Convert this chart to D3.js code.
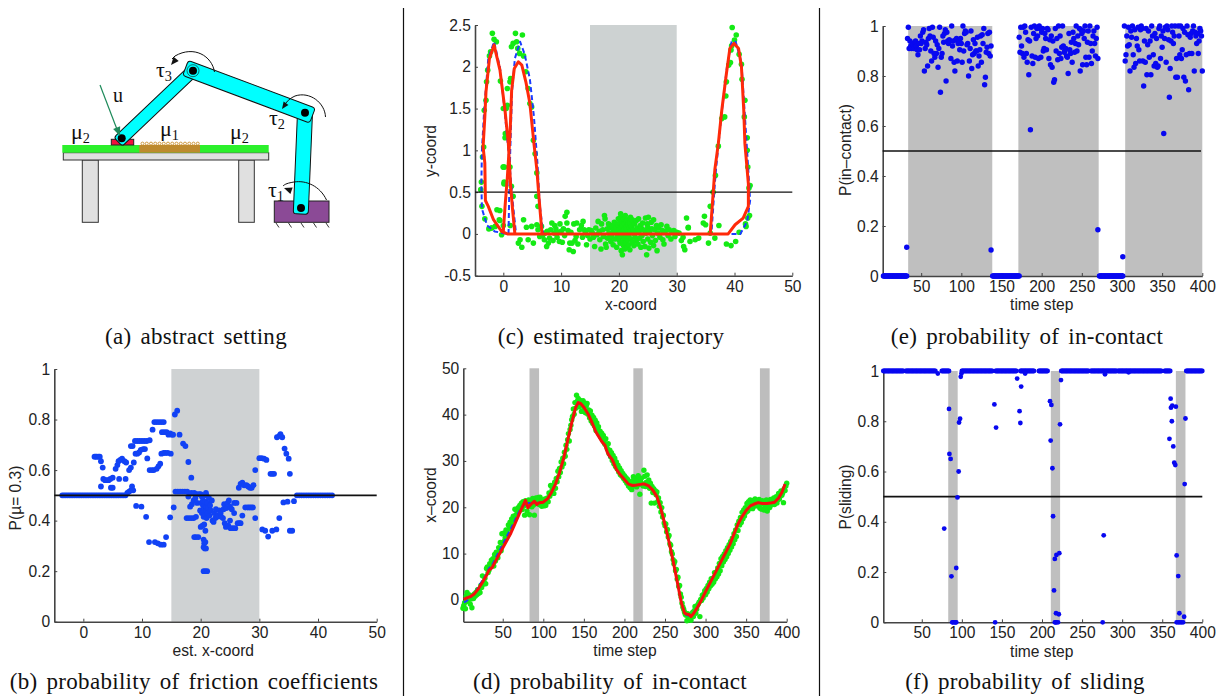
<!DOCTYPE html>
<html>
<head>
<meta charset="utf-8">
<script src="https://d3js.org/d3.v7.min.js"></script>
<style>
html, body { margin: 0; padding: 0; background: #fff; }
svg { display: block; }
text { font-family: "Liberation Sans", sans-serif; fill: #222; }
.caption { font-family: "Liberation Serif", serif; font-size: 23px; fill: #111; letter-spacing: 0.3px; word-spacing: 3px; }
.diagram text { font-family: "Liberation Serif", serif; fill: #111; }
.axis-title { font-size: 15.6px; }
.tick text { font-size: 15.6px; fill: #222; font-family: "Liberation Sans", sans-serif; }
</style>
</head>
<body>
<svg id="chart" width="1220" height="696"></svg>
<script>
// tick labels
var xCoordTicks = [0, 10, 20, 30, 40, 50];
var timeTicks = [50, 100, 150, 200, 250, 300, 350, 400];
var probTicks = [0, 0.2, 0.4, 0.6, 0.8, 1];
var yCoordTicks = [-0.5, 0, 0.5, 1, 1.5, 2, 2.5];
var xTraceTicks = [0, 10, 20, 30, 40, 50];

// shaded regions
var frictionBand = [15, 30];
var contactBands = [[33.8, 138.5], [171, 271], [304, 400]];
var slidingBands = [[83, 94.8], [211, 222.6], [367, 379]];

// (c) noisy observations, x then y
var trajGreen = [
[-3.9,.53],[-3.8,.62],[-3.6,.92],[-3.4,1.04],[-3.3,1.48],[-3,1.6],[-2.9,1.82],[-2.7,1.96],[-2.4,2.13],[-1.9,2.4],[-1.6,2.33],[-1.2,2.3],[-2.2,2.18],[-.5,1.83],
[-3.7,.33],[-3.2,.18],[-2.5,.06],[-2.1,.07],[-1.1,.29],[-.6,.28],[-.7,.17],[-.3,-.01],[0,.8],[.1,.6],[.15,.62],[.2,.8],[.3,1.15],[.35,1.2],[.5,1.5],[0,1.5],[.7,1.54],[.7,1.74],[1.15,1.82],[1.25,1.86],
[1.4,2.24],[1.7,2.28],[2.1,2.4],[2.3,2.3],[2.5,2.22],[2.8,2.16],[3.3,2.38],[3.5,2.13],[3.9,1.94],[4.3,1.74],[4.9,1.52],[4.6,1.56],[5.2,1.12],[5.5,.96],[5.8,.73],[5.8,.45],[6,.33],
[1.15,.8],[1.4,.57],[1.7,.45],[0,.8],[.3,.6],[1.2,.1],[-.6,.16],[-1.4,.09],[-2,.07],[0,.1],
[2.6,-.11],[3.2,-.16],[2.9,-.07],[4.3,-.07],[5.2,-.11],[3.5,.17],[4,.08],[4.9,.09],[5.8,.11],[6,.05],[6.3,-.03],[7.1,-.07],[7.5,-.15],[7.8,-.11],[8.4,.13],[8.9,.1],[9.8,.12],[10.7,.21],[11,.26],[11,.13],[11.5,-.11],[11.4,-.19],[12.1,-.21],[12.7,.13],[13.8,.15],[14.4,-.13],
[6.6,.09],[6.8,-.02],[7.2,.01],[7.6,.03],[8,-.05],[8.2,.05],[8.6,-.08],[8.8,.01],[9.1,.06],[9.3,-.04],[9.5,.02],[9.7,-.09],[10,.03],[10.2,-.1],[10.4,.06],[10.6,-.02],[11.2,.04],[11.7,.02],[11.9,-.11],[12.2,.12],[12.4,-.08],[12.6,-.03],[12.9,-.12],[13.2,.05],[13.5,.1],[13.7,-.04],[14,.05],[14.2,.02],[14.6,-.02],[14.8,.05],
[15,-.06],[15.2,.04],[15.4,.01],[15.6,-.04],[15.8,-.15],[16,.07],[16.2,-.01],[16.4,.15],[16.6,.03],[16.7,-.07],[16.9,-.18],[17,.12],[17.2,.05],[17.3,-.03],[17.5,.22],[17.6,.18],[17.7,-.12],[17.8,-.16],[18,.06],[18,-.05],[18.2,.12],[18.3,.01],[18.5,.08],[18.6,-.09],[18.7,-.03],[18.9,.1],[19,-.13],[19,.04],[19.2,.14],[19.3,-.06],[19.4,.03],[19.5,.08],[19.6,-.16],[19.7,-.02],[19.8,.11],[19.9,.18],
[20,-.07],[20,.05],[20.1,.13],[20.2,-.11],[20.2,.01],[20.3,.2],[20.3,.24],[20.4,-.2],[20.4,.08],[20.5,-.03],[20.5,.15],[20.6,-.25],[20.6,.1],[20.7,.03],[20.7,-.09],[20.8,.18],[20.8,-.14],[20.9,.05],[21,.12],[21,-.05],[21,-.18],[21.1,.22],[21.1,.01],[21.2,.08],[21.2,-.11],[21.3,.15],[21.3,-.02],[21.4,-.16],[21.4,.05],[21.5,.17],[21.5,-.07],[21.6,.02],[21.6,.11],[21.7,-.13],[21.7,-.03],[21.8,.07],[21.9,.14],[21.9,-.19],[22,.2],[22,.03],[22.1,-.06],[22.2,.09],[22.3,-.1],[22.3,.17],[22.4,.01],[22.5,.05],[22.6,-.14],[22.7,.12],[22.8,-.04],[22.9,.02],[23,.16],[23,-.08],[23.2,.07],[23.3,-.12],[23.4,.18],[23.5,.03],[23.6,-.05],[23.7,.1],[23.8,-.16],[24,.06],[24,-.02],[24.1,.13],[24.2,-.09],[24.4,.04],[24.5,-.15],[24.6,.19],[24.7,.01],[24.8,-.25],[24.9,.12],[25,-.06],[25,.08],[25.1,.2],[25.2,-.17],[25.3,.03],[25.5,-.1],[25.6,.14],[25.7,.06],[25.8,-.02],[26,.17],[26,-.14],[26.2,.05],[26.3,-.08],[26.5,.1],[26.6,-.2],[26.7,.01],[26.9,.07],[27.1,-.04],[27.3,.11],[27.5,.04],[27.6,-.07],[27.8,-.12],[28,.03],[28.3,.09],[28.5,-.02],[28.7,.05],[29,-.06],[29.2,.02],[29.5,.04],[29.7,-.03],[30,.02],
[30.4,.01],[30.8,-.08],[31.1,-.04],[31.2,-.15],[31.4,-.19],[31.7,.19],[32,.07],[32.3,-.09],[32,.08],[33.2,-.07],[33.8,-.05],[34.8,.21],[34.6,.13],[35,.11],[35.5,-.11],[35.8,.01],[36.6,-.05],[37.3,.1],[38.6,-.12],[39.4,-.14],[40.2,-.09],[40.8,.02],[42,.09],
[35.8,.33],[36.3,.5],[36.7,.7],[37.2,1.05],[37.8,1.38],[38.3,1.4],[38.5,1.65],[38.6,1.82],[39,2.02],[39.3,2.05],[39.4,2.2],[39.5,2.25],[39.6,2.47],[40,2.32],[40.3,2.38],[40.8,2.15],[41.2,2.03],[41.3,1.85],[41.8,1.6],[41.7,1.4],[42.2,1.15],[42.2,1],[42.3,.8],[42.5,.55],[42.7,.58],[42.6,.22],[42.3,.19],[41.9,.12]
];
// (c) estimated path
var trajRedX = [0,.3,.7,1.15,1.44,1.9,2.6,3.2,3.9,4.6,5.3,5.8,6.2,6.7,35.8,36.6,37.2,37.8,38.6,39.2,39.9,40.7,41.2,41.6,41.8,42.4,42.4,41.5,40.1,38.9,2,1.6,1.27,.87,.29,-.58,-1.6,-2.4,-3,-3.2,-3.5,-3.2,-3.1,-2.6,-1.7,-.3,.7,30];
var trajRedY = [.03,.33,.68,1.17,1.72,1.98,2.06,2.02,1.82,1.56,1.08,.77,.41,0,0,.77,1.08,1.48,1.92,2.22,2.28,2.22,2,1.48,1.08,.6,.33,.19,.11,0,0,.29,.57,1.08,1.48,1.96,2.26,2.1,1.7,1.4,1.04,.85,.4,.33,.17,.03,0,0];
// (c) true path
var trajBlueX = [.9,1,1.2,1.5,2,2.9,3.7,4.6,5.3,5.9,6.3,6.9,36,36.7,37.7,38.7,39.5,40.2,41.2,41.9,42.4,42.7,42.2,41,39,2.2,1.6,1,.2,-.6,-1.6,-2.6,-3.3,-3.7,-3.8,-3.7,-2.8,-1.5,.6,30];
var trajBlueY = [0,.4,1,1.7,2.1,2.3,2.15,1.85,1.4,.85,.35,0,0,.7,1.4,2,2.3,2.3,2.05,1.3,.75,.4,.15,0,0,0,.4,.9,1.5,2,2.3,2.1,1.5,1,.6,.3,.1,.03,0,0];

// (d) noisy x-coord, one per time step from 1
var obsX = [
-1.8,-1.2,-.6,-1.9,.8,1.6,-.3,.4,1.1,-.9,
.2,-1.7,.9,.3,1.3,.8,1.6,1.1,2.2,1.4,
2.3,1.6,3.1,2.7,5.2,3.4,3.8,4.7,3.5,6.8,
7.1,5.9,6.4,7.8,7.2,8.6,7.9,8.9,7.3,9.8,
8.4,10.3,9.7,9.1,11.3,10.8,12.4,10.6,14.3,12.1,
14.4,12.7,13.4,15.1,14.6,13.8,16.2,15.3,16.8,15.6,
17.5,16.4,18.1,17.2,19.6,18.3,19.3,18.6,19.9,19.1,
20.4,19.7,20.9,19.5,21.2,20.3,18.3,21.4,20.6,19.2,
20.7,21.6,18.4,20.2,21.3,20.1,21.9,20.5,18.3,21.1,
22,20.8,21.7,22.1,20.6,22.2,21,20.2,21.6,20.9,
20.3,21.8,20.4,21.5,22,21.2,23.1,22.4,24.7,23.2,
23.9,24.6,23,25.4,24.1,26.2,25.5,27.8,26.6,28.4,
27.5,29.8,28.7,30.6,29.4,31.9,31,33.4,32.5,34.6,
35.9,34.3,36.8,37.7,38.9,39.6,41.2,40.1,42.6,41.4,
44.2,42.9,43.5,41.7,43.1,42.2,40.7,42.8,43,41.5,
42.5,40.4,41.9,42.4,40.1,41,39.3,40.8,38.6,39.9,
38.1,39.4,37.6,38.8,36.6,38.2,36.9,37.4,35.9,36.4,
35.2,36,34.5,35.5,34,33.6,34.8,33.1,32.6,33.7,
31.6,32.3,30.9,31.8,30.1,31.2,29.4,30.6,28.8,29.8,
28.3,29.1,27.6,28.5,27,27.9,26.7,27.3,26.2,26.8,
25.7,26.4,25.2,26,24.6,25.5,24.2,25,23.8,25.7,
26.6,24.7,26.2,25.3,24.4,25.8,26.8,24.9,22.8,25.5,
26.3,25.1,24.6,28,26.7,24.5,25.4,27,24.8,25.9,
24.1,25.2,20.9,24.5,23.2,24,20.9,23.6,22.7,23.3,
21.2,22,20.2,21,19,19.9,17.9,18.3,16.6,16,
16.4,14.7,15.2,13.6,13.9,12.1,11.8,10.4,9.9,8.7,
7.8,8.3,6.3,6.6,4.5,4.9,2.9,3.1,1.3,.6,
-.7,-1.5,-2,-2.6,-3.1,-3.3,-4.5,-3,-4.1,-3.4,
-3.9,-4.4,-3.2,-2.7,-3.6,-2.3,-1.4,-2.9,-2,-1.2,
-.9,-.5,-3.6,.1,-.1,1,.4,1.3,2,1.1,
2.5,1.7,3.1,2.4,3.8,3,4.6,3.4,4.7,3.8,
5.9,4.5,6,5,6.9,5.6,7.9,6.3,8.9,7.4,
9.4,8.2,9.9,8.7,10.6,9.3,11.3,10,11.9,10.7,
12.6,11.4,13.3,12.1,14.3,13,15.1,13.7,16.2,15,
17,16.2,17.8,16.7,18.9,17.5,19.4,18.1,19.9,18.9,
20.8,19.2,21.2,19.7,21.6,20.2,20.9,19.7,21.5,20.2,
21.8,20.6,21.3,20.3,20.4,21.7,19.8,21,19.6,21.4,
20.7,19.4,21.2,20,21.6,19.2,20.8,21.3,19.9,21.7,
20.5,21.5,20.9,22,20.6,21.2,22.3,20.9,21.6,23,
21.8,22.4,23.5,22.6,23.1,21,24,23.6,24.6,25.2
];
var estT = [2,5,10,15,20,25,30,33,37,40,50,60,70,74,78,81,85,89,92,95,100,105,110,115,120,125,130,135,140,143,146,150,155,160,165,172,176,179,181,185,190,195,200,205,210,215,222,225,230,235,240,245,250,255,260,265,270,274,276,280,282,285,290,295,300,310,320,330,340,345,350,355,360,365,370,375,380,385,390,394,398];
var estX = [.1,.4,.7,1.3,2.4,3.8,5.3,6.4,7,8,11.2,14.4,18.4,20,21.5,19.9,20.7,21.3,20.6,21,21.1,21.8,23.2,25,27.5,30.5,34.4,38.2,41.6,42.6,42.4,41.6,40.2,38.3,36.2,34.2,33.4,31.8,31.2,30.3,28.2,27,26,25,24.7,24.8,25,25,24.6,23.7,22.3,19.6,16.2,12.5,8.4,4,-.5,-2.8,-3,-3.2,-3.6,-3,-1.6,0,1.8,5.2,8.6,12,16.4,18,19.3,20.3,20.7,21,20.8,20.8,20.9,21.1,22,23.2,25];
var trueX = [-.5,-.3,.5,1.4,2.8,4.2,5.6,6.8,7.6,8.6,12,15.4,19,20.2,20.7,20.9,20.9,20.9,20.9,21,21.1,21.8,23.2,25,27.5,30.5,34.4,38.2,41.6,42.6,42.4,41.6,40.2,38.3,36.2,34.2,33.4,31.8,31,30.3,28.2,27,26,25,24.7,24.8,25,25,24.6,23.7,22.3,19.6,16.2,12.5,8.4,4,-.5,-2.8,-3.2,-3.4,-3.4,-3,-1.6,0,1.8,5.2,8.6,12,16.4,18,19.3,20.3,20.7,21,20.8,20.8,20.9,21.1,22,23.2,25];

// (e) in-contact probability, off-contact zero runs and three contact stretches
var contactZeroRuns = [[3,32],[139,172],[272,301]];
var contactStray = [[32,.115],[137,.104],[270,.185],[301,.077]];
var contactAStart = 33;
var contactA = [
.95,.995,.91,.94,.92,.91,.93,.925,.91,.935,
.94,.92,.905,.885,.93,.905,.96,.93,.94,.975,
.985,.82,.91,.935,.925,.84,.95,.99,.96,.9,
.86,.995,.955,.89,.875,.94,.89,.925,.835,.91,
.995,.735,.875,.89,.96,.935,.97,.985,.78,.975,
.94,.93,.945,.94,.87,1,.92,.94,.855,.82,
.945,.95,.86,.93,.94,.905,.95,.93,.855,1,
.9,.97,.98,.975,.925,.93,.8,.86,.91,.98,
.83,.885,.945,.89,.93,.9,.9,.955,.84,.88,
.905,.96,.855,.965,.93,.99,.765,.795,.895,.915,
.97,.89,.975,.88,.92
];
var contactBStart = 172;
var contactB = [
.955,.895,.995,.92,.89,.995,.875,1,.975,.89,
.855,.945,.805,.94,.585,.995,.88,.85,.97,1,
.875,.95,.99,.96,.87,1,.99,.875,.975,.99,
.9,.91,.97,.95,.905,.99,.985,.87,.945,.845,
.96,.835,.94,.775,.785,.99,.9,.95,.865,1,
.89,.96,.87,.915,1,.92,.895,.9,.91,.88,
.875,.81,.97,.905,.89,.935,.855,.975,.95,.895,
.93,1,.9,.96,.925,.99,.82,.985,.97,.845,
.98,.95,1,.875,.845,.935,.98,.875,1,.93,
.85,.9,.96,.98,.93,.88,.95,.995,.87
];
var contactCStart = 303;
var contactC = [
1,.86,.885,.96,.92,.995,.925,.82,.98,.955,
1,.885,.835,.985,.85,.95,.92,.995,.905,.86,
.985,1,.99,.86,.76,.94,.855,.99,.805,.925,
.98,.875,.94,.805,1,.96,.885,.84,.97,.85,
.95,.835,.84,.99,1,.87,.96,.915,.98,.57,
.95,.995,.855,1,.985,.945,.715,.83,.94,1,
.975,.93,.96,1,.795,.87,.795,1,.96,.885,
1,.87,.905,.99,.795,.975,.78,.885,1,.965,
.745,.89,.955,.97,.89,.98,1,.82,.975,.96,
.93,.97,.89,.94,.99,.98,.96,.82
];

// (f) sliding probability
var slidingOneRuns = [[2,27],[30,67],[75,84],[100,138],[142,168],[173,190],[196,207],[224,258],[261,293],[295,349],[353,360],[380,400]];
var slidingT = [70,78,84,84.5,86,87,88,89,91,92,93,93,94.5,96,96.5,97.8,98.6,99.5,141.5,140.6,142.7,169,172,173,174,179,210,211.7,210.8,213,213.8,215,216,216,217,217.5,218,218,220,221,221.6,222.5,223.7,275.7,277,278.6,360.5,359,360.9,362,362.5,363.8,365,366.3,367,368,368,370,370,371.4,372,374,376,377.3,378,379,308];
var slidingP = [.99,.373,.849,.67,.65,.183,0,0,0,0,0,.216,.497,.6,.795,.81,.977,.99,0,.867,.775,.97,.84,.793,.938,.99,.88,.865,.723,.613,.422,.127,.252,0,0,.036,.268,0,0,.032,.275,.788,.964,0,.346,.987,.89,.73,.854,.8,.862,.7,.635,.626,.858,.266,0,.184,0,.036,0,0,0,.022,.55,.811,.995];

// (b) friction belief, flat stretch at one half plus the rest
var muFlatX = [-3.6,-3.3,-3,-2.7,-2.4,-2.1,-1.8,-1.5,-1.2,-.9,-.6,-.3,0,.3,.6,.9,1.2,1.5,1.8,2.1,2.4,2.7,3,3.3,3.6,3.9,4.2,4.5,4.8,5.1,5.4,5.7,6,6.3,6.6,6.9,7.2,36.4,36.8,37.2,37.6,38,38.4,38.8,39.2,39.6,40,40.4,40.8,41.2,41.6,42,42.4];
var muPoints = [
[1.9,.653],[2.1,.653],[2.3,.653],[2.6,.653],[2.8,.653],[3,.635],[3.3,.61],[3,.535],[3.4,.565],[3.7,.56],[4,.56],[4.3,.56],[4.6,.565],[5,.57],[4.7,.53],[5,.53],
[5.5,.605],[5.8,.62],[6,.635],[6.3,.64],[6.6,.645],[7,.635],[7.3,.63],[6.1,.565],[7.2,.565],[7.8,.6],[8.1,.61],[8.6,.63],[7.5,.51],[7.8,.515],[8.1,.52],[8.3,.535],[8.5,.52],
[8.1,.695],[8.4,.695],[8.8,.715],[9.2,.715],[9.6,.715],[10,.715],[10.4,.715],[10.8,.715],[11.3,.718],[8.9,.665],[9.2,.665],[9.5,.67],[9.8,.68],[10.2,.683],[10.5,.683],[9,.458],[9.9,.455],[10.7,.415],[10.9,.646],
[11.2,.315],[12.2,.315],[12.7,.31],[13.2,.305],[13.7,.305],[14.1,.335],[11.3,.6],[11.7,.6],[12,.6],[12.5,.605],[12.8,.615],[13.1,.625],[11.8,.76],[12.1,.79],[12.5,.79],[12.9,.79],[13.3,.79],[13.7,.79],
[13.3,.665],[13.7,.668],[14,.668],[14.4,.668],[14.9,.665],[13.4,.75],[13.8,.75],[14.2,.75],[14.5,.74],[14.8,.745],[15.1,.74],[15.3,.74],[14.8,.413],[15.4,.452],[15.6,.82],[16,.835],
[15.7,.515],[16.1,.515],[16.5,.515],[16.9,.515],[17.3,.515],[17.7,.515],[17.9,.495],[18.4,.51],[18.9,.51],[19.3,.505],[19.7,.505],[20,.505],[20.9,.51],[21,.5],
[16.4,.74],[17,.705],[17.4,.695],[17.9,.632],[18.4,.57],[17.6,.41],[18,.41],[18.4,.41],[18.8,.41],[19.2,.415],[18.2,.455],[18.5,.465],[18.8,.48],[19.1,.49],[19.4,.47],[18.9,.335],[19.2,.335],[19.6,.335],[19.9,.44],[20,.375],[20.3,.38],[20.6,.385],[20.2,.43],[20.5,.415],
[20.1,.47],[20.2,.495],[20.4,.46],[20.4,.48],[20.6,.44],[20.6,.5],[20.7,.46],[20.8,.42],[20.8,.475],[20.9,.44],[21,.455],[21,.41],[21.2,.47],[21.2,.43],[21.3,.45],[21.4,.49],[21.5,.42],[21.6,.46],[21.7,.44],[21.9,.48],[22,.4],[22.2,.395],[22.3,.43],[22.5,.41],[22.6,.445],[22.8,.415],[23,.42],[23.2,.44],[23.4,.43],[23.5,.415],[23.8,.41],[23.9,.445],[24,.465],[24.1,.39],[24.3,.375],[24.4,.45],[24.6,.47],[24.7,.38],[24.8,.48],[25,.4],[25,.455],[25.1,.37],[25.3,.445],[25.5,.37],[25.7,.47],[25.7,.43],[25.9,.37],[26.1,.47],[26.3,.39],[26.6,.39],[26.8,.39],
[20.5,.325],[20.6,.31],[20.5,.295],[20.7,.29],[20.8,.315],[20.9,.29],[20.8,.36],[20.5,.2],[20.8,.2],[21.1,.2],
[26.5,.53],[26.8,.545],[27.1,.55],[27.4,.54],[27.8,.54],[28.1,.535],[28.4,.53],[28.7,.53],[29,.54],[27.1,.42],[27.6,.452],[28,.452],[28.3,.452],[28.6,.452],[28.9,.452],[29.3,.6],[29.3,.41],
[30,.647],[30.4,.647],[30.8,.645],[31.2,.64],[30.5,.365],[31,.36],[31.5,.337],[32.2,.36],[32.9,.365],[33.4,.41],[31.9,.585],[32.2,.585],[32.5,.585],[33,.73],[33.4,.735],[33.6,.742],[33.9,.73],[34.3,.685],[34.6,.665],[35,.645],[35.2,.585],[34.1,.472],[34.8,.475],[35.9,.477],[35.2,.36],[35.6,.36]
];

var svg = d3.select("#chart");

function makeScale(domain, range) {
    return d3.scaleLinear().domain(domain).range(range);
}

function drawAxes(g, x, y, xTicks, yTicks) {
    var bottom = y.range()[0];
    var left = x.range()[0];
    var xAxis = d3.axisBottom(x).tickValues(xTicks).tickSizeInner(-3).tickSizeOuter(0).tickPadding(5).tickFormat(String);
    var yAxis = d3.axisLeft(y).tickValues(yTicks).tickSizeInner(-3).tickSizeOuter(0).tickPadding(4).tickFormat(String);
    g.append("g").attr("transform", "translate(0," + bottom + ")").call(xAxis);
    g.append("g").attr("transform", "translate(" + left + ",0)").call(yAxis);
    g.selectAll(".domain").attr("stroke", "#444").attr("stroke-width", 1.6);
    g.selectAll(".tick line").attr("stroke", "#444");
}

function drawBands(g, x, y, bands, color) {
    g.selectAll("rect.band").data(bands).enter().append("rect")
        .attr("class", "band")
        .attr("x", function (d) { return x(d[0]); })
        .attr("width", function (d) { return x(d[1]) - x(d[0]); })
        .attr("y", y.range()[1])
        .attr("height", y.range()[0] - y.range()[1])
        .attr("fill", color);
}

function drawDots(g, data, x, y, r, color) {
    g.append("g").selectAll("circle").data(data).enter().append("circle")
        .attr("cx", function (d) { return x(d[0]); })
        .attr("cy", function (d) { return y(d[1]); })
        .attr("r", r)
        .attr("fill", color);
}

function drawPath(g, xs, ys, x, y, color, width, dash) {
    var line = d3.line()
        .x(function (d) { return x(d); })
        .y(function (d, i) { return y(ys[i]); });
    g.append("path")
        .attr("d", line(xs))
        .attr("fill", "none")
        .attr("stroke", color)
        .attr("stroke-width", width)
        .attr("stroke-linejoin", "round")
        .attr("stroke-dasharray", dash || null);
}

function drawHalf(g, x, y, x0, x1, width) {
    g.append("line")
        .attr("x1", x0).attr("x2", x1)
        .attr("y1", y(0.5)).attr("y2", y(0.5))
        .attr("stroke", "#111").attr("stroke-width", width);
}

function axisTitle(txt, cx, cy, rotate) {
    svg.append("text").attr("class", "axis-title")
        .attr("text-anchor", "middle")
        .attr("transform", "translate(" + cx + "," + cy + ")" + (rotate ? " rotate(-90)" : ""))
        .text(txt);
}

function caption(txt, cx, cy) {
    svg.append("text").attr("class", "caption").attr("text-anchor", "middle").attr("x", cx).attr("y", cy).text(txt);
}

function expandRuns(runs, value) {
    var out = [];
    runs.forEach(function (run) {
        d3.range(run[0], run[1] + 0.5, 1).forEach(function (t) { out.push([t, value]); });
    });
    return out;
}

function withSteps(values, start) {
    return values.map(function (v, i) { return [start + i, v]; });
}

// dividers between the columns
[403.5, 819.5].forEach(function (px) {
    svg.append("line").attr("x1", px).attr("x2", px).attr("y1", 8).attr("y2", 696).attr("stroke", "#111").attr("stroke-width", 1.2);
});

// (c)
(function () {
    var g = svg.append("g");
    var x = makeScale([-4.9, 50], [475, 792.3]);
    var y = makeScale([-0.5, 2.5], [275.7, 25]);
    drawBands(g, x, y, [frictionBand], "#cdd2d2");
    drawAxes(g, x, y, xCoordTicks, yCoordTicks);
    drawDots(g, trajGreen, x, y, 2.8, "#14ea14");
    drawPath(g, trajBlueX, trajBlueY, x, y, "#1a3cff", 2, "5,3");
    drawHalf(g, x, y, 475, 792.3, 1.2);
    drawPath(g, trajRedX, trajRedY, x, y, "#ff2a0a", 3);
    axisTitle("x-coord", 631, 310);
    axisTitle("y-coord", 436, 151, true);
})();

// (e)
(function () {
    var g = svg.append("g");
    var x = makeScale([2.1, 400], [882.7, 1202.3]);
    var y = makeScale([0, 1], [276, 26]);
    drawBands(g, x, y, contactBands, "#bfbfbf");
    drawAxes(g, x, y, timeTicks, probTicks);
    drawHalf(g, x, y, 882.7, 1201, 1.6);
    var pts = expandRuns(contactZeroRuns, 0)
        .concat(contactStray)
        .concat(withSteps(contactA, contactAStart))
        .concat(withSteps(contactB, contactBStart))
        .concat(withSteps(contactC, contactCStart));
    drawDots(g, pts, x, y, 2.7, "#0808f0");
    axisTitle("time step", 1041.7, 310);
    axisTitle("P(in\u2013contact)", 851, 150, true);
})();

// (b)
(function () {
    var g = svg.append("g");
    var x = makeScale([-4.95, 50], [54.3, 376.7]);
    var y = makeScale([0, 1], [621.7, 369]);
    drawBands(g, x, y, [frictionBand], "#cfd2d3");
    drawAxes(g, x, y, xCoordTicks, probTicks);
    var flat = muFlatX.map(function (v) { return [v, 0.5]; });
    drawDots(g, flat.concat(muPoints), x, y, 2.9, "#1142f5");
    drawHalf(g, x, y, 54.3, 376.7, 1.8);
    axisTitle("est. x-coord", 213.3, 656);
    axisTitle("P(\u00b5= 0.3)", 21, 498, true);
})();

// (d)
(function () {
    var g = svg.append("g");
    var x = makeScale([1.4, 400], [463.3, 786.7]);
    var y = makeScale([-4.7, 50], [621.7, 368.3]);
    drawBands(g, x, y, slidingBands, "#bdbdbd");
    drawAxes(g, x, y, timeTicks, xTraceTicks);
    drawDots(g, withSteps(obsX, 1), x, y, 2.7, "#14ea14");
    drawPath(g, estT, trueX, x, y, "#1a3cff", 2, "5,3");
    drawPath(g, estT, estX, x, y, "#f4100c", 3);
    axisTitle("time step", 625, 656);
    axisTitle("x\u2013coord", 436, 495, true);
})();

// (f)
(function () {
    var g = svg.append("g");
    var x = makeScale([2, 400], [883.3, 1202.3]);
    var y = makeScale([0, 1], [622.3, 371]);
    drawBands(g, x, y, slidingBands, "#bfbfbf");
    drawAxes(g, x, y, timeTicks, probTicks);
    drawHalf(g, x, y, 883.3, 1202.3, 1.6);
    var pts = expandRuns(slidingOneRuns, 1).concat(slidingT.map(function (t, i) { return [t, slidingP[i]]; }));
    drawDots(g, pts, x, y, 2.4, "#0808f0");
    axisTitle("time step", 1041.7, 656.5);
    axisTitle("P(sliding)", 851, 497, true);
})();

// (a) the sketch of the arm and the table
(function () {
    var g = svg.append("g").attr("class", "diagram");

    function box(x0, y0, x1, y1, fill, stroke) {
        g.append("rect").attr("x", x0).attr("y", y0).attr("width", x1 - x0).attr("height", y1 - y0)
            .attr("fill", fill).attr("stroke", stroke || "none").attr("stroke-width", 1);
    }
    function link(x1, y1, x2, y2, w, ext) {
        var len = Math.sqrt((x2 - x1) * (x2 - x1) + (y2 - y1) * (y2 - y1));
        var ang = Math.atan2(y2 - y1, x2 - x1) * 180 / Math.PI;
        g.append("rect").attr("x", -ext).attr("y", -w / 2).attr("width", len + 2 * ext).attr("height", w).attr("rx", 3)
            .attr("transform", "translate(" + x1 + "," + y1 + ") rotate(" + ang + ")")
            .attr("fill", "#00ffff").attr("stroke", "#111").attr("stroke-width", 1);
    }
    function joint(cx, cy) {
        g.append("circle").attr("cx", cx).attr("cy", cy).attr("r", 4).attr("fill", "#000");
    }
    function curve(d, color, w) {
        g.append("path").attr("d", d).attr("fill", "none").attr("stroke", color).attr("stroke-width", w);
    }
    function head(tipX, tipY, ang, size, color) {
        g.append("path").attr("d", "M0,0L" + (-size) + "," + (size * 0.42) + "L" + (-size) + "," + (-size * 0.42) + "Z")
            .attr("transform", "translate(" + tipX + "," + tipY + ") rotate(" + ang + ")")
            .attr("fill", color);
    }
    function label(main, sub, px, py, size) {
        var t = g.append("text").attr("x", px).attr("y", py).attr("font-size", size).text(main);
        if (sub) {
            t.append("tspan").attr("dy", 4).attr("font-size", size * 0.65).text(sub);
        }
    }

    box(82.3, 160, 98.3, 222.3, "#e0e0e0", "#333");
    box(238.7, 160, 254.3, 222.3, "#e0e0e0", "#333");
    box(63.3, 152.7, 268.7, 160, "#e0e0e0", "#333");
    box(62.3, 145, 268.7, 152.7, "#2cf02c");
    box(139.3, 145, 200, 152.7, "#bd8a2e");
    d3.range(142.5, 198, 4.25).forEach(function (bx) {
        g.append("circle").attr("cx", bx).attr("cy", 143.6).attr("r", 1.5).attr("fill", "none").attr("stroke", "#c88f2c").attr("stroke-width", 0.9);
    });
    box(111.3, 139.3, 133.7, 145, "#f0103c", "#222");

    box(274.3, 201, 329, 222.3, "#8b4a96", "#222");
    d3.range(276, 330, 12.5).forEach(function (hx) {
        curve("M" + hx + ",223L" + (hx + 3) + ",227.5", "#222", 0.9);
    });

    link(301, 208, 305, 112.7, 15, 6);
    link(121.7, 138.3, 193, 70.7, 12, 5);
    link(305, 112.7, 193, 70.7, 16, 8);
    joint(301, 208);
    joint(305, 112.7);
    joint(193, 70.7);
    joint(121.7, 138.3);
    g.append("circle").attr("cx", 193).attr("cy", 70.7).attr("r", 6).attr("fill", "none").attr("stroke", "#111").attr("stroke-width", 0.6);

    curve("M100,85L118,132", "#1e8a5a", 1.2);
    head(120, 136, 68, 9, "#1e8a5a");

    curve("M214.5,72C212,56 194,45 175,56L172,59", "#111", 1);
    head(171, 65, 130, 8, "#111");
    curve("M325.5,117C325,103 310,91 295,96C290,98 286,102 284,106", "#111", 1);
    head(282, 109, 125, 7, "#111");
    curve("M326.5,200C320,186 306,180 294,182C288,183 285,184 283,186", "#111", 1);
    head(284, 188, 200, 8, "#111");

    label("u", null, 113, 102, 20);
    label("\u03bc", "2", 71, 139, 22);
    label("\u03bc", "1", 160, 136, 22);
    label("\u03bc", "2", 230, 139, 22);
    label("\u03c4", "3", 156, 77, 22);
    label("\u03c4", "2", 269, 125, 22);
    label("\u03c4", "1", 268, 197, 22);
})();

caption("(a) abstract setting", 196, 344);
caption("(c) estimated trajectory", 611, 344);
caption("(e) probability of in-contact", 1027, 344);
caption("(b) probability of friction coefficients", 194, 689);
caption("(d) probability of in-contact", 610, 689);
caption("(f) probability of sliding", 1025, 689);
</script>
</body>
</html>
